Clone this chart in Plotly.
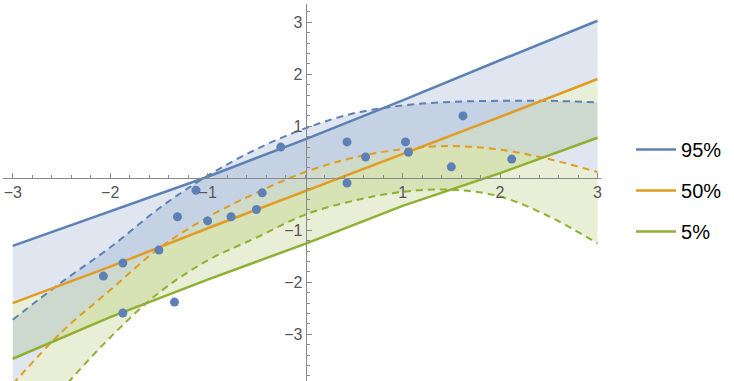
import plotly.graph_objects as go

# data points
px = [-2.07, -1.87, -1.87, -1.50, -1.34, -1.31, -1.12, -1.00, -0.76, -0.50,
      -0.44, -0.25, 0.43, 0.43, 0.62, 1.03, 1.06, 1.50, 1.62, 2.12]
py = [-1.88, -1.63, -2.59, -1.38, -2.38, -0.74, -0.23, -0.82, -0.74, -0.60,
      -0.28, 0.60, 0.70, -0.09, 0.41, 0.70, 0.50, 0.22, 1.20, 0.37]

# solid (linear) quantile fits, read at x = -3..3
xl = [-3, -2, -1, 0, 1, 2, 3]
l95 = [-1.30, -0.64, 0.03, 0.75, 1.50, 2.27, 3.03]
l50 = [-2.40, -1.70, -0.96, -0.25, 0.46, 1.18, 1.91]
l5 = [-3.47, -2.67, -1.95, -1.26, -0.53, 0.10, 0.78]

# dashed (curved) quantile fits, read every 0.5
xq = [-3, -2.5, -2, -1.5, -1, -0.5, 0, 0.5, 1, 1.5, 2, 2.5, 3]
q95 = [-2.72, -2.00, -1.33, -0.58, 0.05, 0.56, 0.96, 1.25, 1.40, 1.47, 1.49, 1.49, 1.46]
q50 = [-3.96, -2.96, -2.15, -1.35, -0.75, -0.28, 0.12, 0.40, 0.56, 0.62, 0.55, 0.37, 0.12]
q5 = [-5.15, -4.07, -3.06, -2.20, -1.58, -1.14, -0.70, -0.43, -0.26, -0.22, -0.35, -0.73, -1.25]

names = ["95%", "50%", "5%"]
xticks = [-3, -2, -1, 1, 2, 3]
yticks = [-3, -2, -1, 1, 2, 3]
xminor = [round(-3 + 0.2 * i, 1) for i in range(31)]
yminor = [round(-3.8 + 0.2 * i, 1) for i in range(36)]

BLUE = "#5E81B5"
ORANGE = "#E19C24"
GREEN = "#8FB032"
BLUE_F = "rgba(94,129,181,0.2)"
GREEN_F = "rgba(143,176,50,0.2)"

fig = go.Figure()


def ghost(x, y, shape, fill=None, fillcolor=None):
    fig.add_trace(go.Scatter(x=x, y=y, mode="lines",
                             line=dict(width=0, shape=shape, smoothing=1),
                             fill=fill, fillcolor=fillcolor,
                             showlegend=False, hoverinfo="skip"))


# bands: linear fits
ghost(xl, l50, "linear")
ghost(xl, l95, "linear", "tonexty", BLUE_F)
ghost(xl, l50, "linear")
ghost(xl, l5, "linear", "tonexty", GREEN_F)
# bands: curved fits
ghost(xq, q50, "spline")
ghost(xq, q95, "spline", "tonexty", BLUE_F)
ghost(xq, q50, "spline")
ghost(xq, q5, "spline", "tonexty", GREEN_F)

# dashed curves
for y, c in zip([q95, q50, q5], [BLUE, ORANGE, GREEN]):
    fig.add_trace(go.Scatter(x=xq, y=y, mode="lines",
                             line=dict(color=c, width=2, dash="7px,5px",
                                       shape="spline", smoothing=1),
                             showlegend=False, hoverinfo="skip"))

# solid lines
for i, (y, c) in enumerate(zip([l95, l50, l5], [BLUE, ORANGE, GREEN])):
    fig.add_trace(go.Scatter(x=xl, y=y, mode="lines", name=names[i],
                             legendgroup=names[i],
                             line=dict(color=c, width=2.5),
                             hoverinfo="skip"))

# points
fig.add_trace(go.Scatter(x=px, y=py, mode="markers",
                         marker=dict(color=BLUE, size=9),
                         showlegend=False, hoverinfo="skip"))

axis_common = dict(showgrid=False, zeroline=False, showline=True,
                   linecolor="#8a8a8a", linewidth=1,
                   ticks="inside", ticklen=5, tickcolor="#8a8a8a", tickwidth=1,
                   tickfont=dict(family="Liberation Sans", size=16, color="#555555"),
                   anchor="free", fixedrange=True)

fig.update_layout(
    width=734, height=381,
    margin=dict(l=3, r=133, t=4, b=0),
    paper_bgcolor="white", plot_bgcolor="white",
    xaxis=dict(range=[-3.1, 3.036], tickmode="array", tickvals=xticks,
               position=0.5377, side="bottom",
               minor=dict(ticks="inside", ticklen=3, tickcolor="#8a8a8a",
                          tickmode="array", tickvals=xminor, showgrid=False),
               **axis_common),
    yaxis=dict(range=[-3.898, 3.352], tickmode="array", tickvals=yticks,
               position=0.5062, side="left",
               minor=dict(ticks="inside", ticklen=3, tickcolor="#8a8a8a",
                          tickmode="array", tickvals=yminor, showgrid=False),
               **axis_common),
    legend=dict(xref="container", yref="container", x=0.8597, y=0.5,
                xanchor="left", yanchor="middle", itemwidth=40,
                font=dict(family="Liberation Sans", size=20, color="black"),
                tracegroupgap=12, bgcolor="rgba(0,0,0,0)"),
    showlegend=True,
)

fig.write_html("out.html")
